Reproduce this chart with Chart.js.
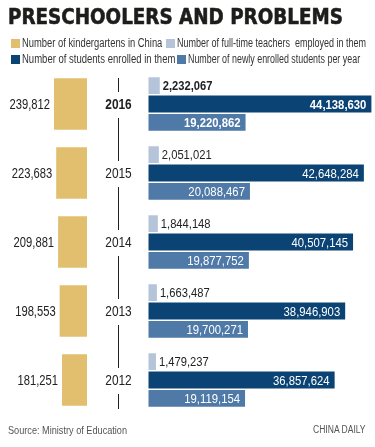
<!DOCTYPE html>
<html>
<head>
<meta charset="utf-8">
<script src="https://cdn.jsdelivr.net/npm/chart.js@4.4.1/dist/chart.umd.min.js"></script>
<style>
    body { margin: 0; background: #fff; }
    #wrap { position: relative; width: 375px; height: 447px; overflow: hidden; font-family: "Liberation Sans", Arial, sans-serif; }
    #chart { position: absolute; left: 0; top: 0; }
    #title {
        position: absolute; left: 8px; top: 5px;
        font-family: "DejaVu Sans", sans-serif; font-weight: bold; font-size: 21px;
        color: #1d1d1b; -webkit-text-stroke: 0.6px #1d1d1b;
        white-space: nowrap; transform-origin: left top;
    }
    .lg { position: absolute; font-size: 12px; color: #333; white-space: nowrap; line-height: 12px; }
    .lg i { display: inline-block; width: 9px; height: 9px; margin-right: 2px; vertical-align: -1px; }
    .fit { display: inline-block; transform-origin: left center; }
    .foot { position: absolute; font-size: 11px; color: #555; white-space: nowrap; }
</style>
</head>
<body>
<div id="wrap">
    <canvas id="chart" width="375" height="447"></canvas>
    <div id="title">PRESCHOOLERS AND PROBLEMS</div>
    <div class="lg" style="left:11px; top:37px"><i style="background:#e2bf6e"></i><span class="fit" data-w="140">Number of kindergartens in China</span></div>
    <div class="lg" style="left:166px; top:37px"><i style="background:#b6c4da"></i><span class="fit" data-w="189">Number of full-time teachers&nbsp; employed in them</span></div>
    <div class="lg" style="left:11px; top:53px"><i style="background:#0b4474"></i><span class="fit" data-w="153">Number of students enrolled in them</span></div>
    <div class="lg" style="left:177px; top:53px"><i style="background:#4f79a7"></i><span class="fit" data-w="172">Number of newly enrolled students per year</span></div>
    <div class="foot" style="left:8px; top:424px"><span class="fit" data-w="119">Source: Ministry of Education</span></div>
    <div class="foot" style="left:313px; top:424px; font-size:10px"><span class="fit" data-w="53">CHINA DAILY</span></div>
</div>
<script>
const years = ["2016", "2015", "2014", "2013", "2012"];
const kindergartens = [239812, 223683, 209881, 198553, 181251];
const teachers = [2232067, 2051021, 1844148, 1663487, 1479237];
const students = [44138630, 42648284, 40507145, 38946903, 36857624];
const newStudents = [19220862, 20088467, 19877752, 19700271, 19119154];

const FONT = '"Liberation Sans", Arial, sans-serif';
const fmt = v => v.toLocaleString("en-US");

// squeeze texts to the reference widths (no narrow font installed)
const title = document.getElementById("title");
title.style.transform = "scaleX(" + (335 / title.offsetWidth) + ")";
document.querySelectorAll(".fit").forEach(el => {
    el.style.transform = "scaleX(" + (el.dataset.w / el.offsetWidth) + ")";
});

// condensed text on the canvas
function squeezeText(ctx, text, x, y, align, sx) {
    ctx.save();
    ctx.translate(x, y);
    ctx.scale(sx, 1);
    ctx.textAlign = align;
    ctx.fillText(text, 0, 0);
    ctx.restore();
}

// value labels, year column and the divider line
const labelPlugin = {
    id: "labels",
    afterDatasetsDraw(chart) {
        const ctx = chart.ctx;
        ctx.save();
        ctx.textBaseline = "middle";

        chart.data.datasets.forEach((ds, di) => {
            chart.getDatasetMeta(di).data.forEach((bar, i) => {
                const { x, y } = bar.getProps(["x", "y"], true);
                const bold = i === 0 ? "bold " : "";
                const text = fmt(ds.data[i]);

                if (di === 0) {
                    ctx.font = "14px " + FONT;
                    ctx.fillStyle = "#222";
                    squeezeText(ctx, text, x - 4, y + 1, "right", 0.8);
                } else if (di === 1) {
                    ctx.font = bold + "13px " + FONT;
                    ctx.fillStyle = "#222";
                    squeezeText(ctx, text, x + 3, y + 1, "left", 0.86);
                } else {
                    ctx.font = bold + "13px " + FONT;
                    ctx.fillStyle = "#fff";
                    squeezeText(ctx, text, x - 5, y + 1, "right", 0.87);
                }
            });
        });

        // years + vertical line
        const yScale = chart.scales.y;
        const lineX = 118.5;
        const top = yScale.getPixelForValue(0) - 26;
        const bottom = yScale.getPixelForValue(years.length - 1) + 29;

        ctx.strokeStyle = "#222";
        ctx.lineWidth = 1;
        let from = top;
        years.forEach((yr, i) => {
            const cy = yScale.getPixelForValue(i);
            ctx.beginPath();
            ctx.moveTo(lineX, from);
            ctx.lineTo(lineX, cy - 12);
            ctx.stroke();
            from = cy + 14;

            ctx.font = (i === 0 ? "bold " : "") + "14px " + FONT;
            ctx.fillStyle = "#222";
            squeezeText(ctx, yr, lineX, cy + 1, "center", 0.85);
        });
        ctx.beginPath();
        ctx.moveTo(lineX, from);
        ctx.lineTo(lineX, bottom);
        ctx.stroke();

        ctx.restore();
    }
};

new Chart(document.getElementById("chart"), {
    type: "bar",
    data: {
        labels: years,
        datasets: [
            {
                label: "Number of kindergartens in China",
                data: kindergartens,
                xAxisID: "xk",
                backgroundColor: "#e2bf6e",
                grouped: false,
                categoryPercentage: 0.8,
                barPercentage: 0.93
            },
            {
                label: "Number of full-time teachers employed in them",
                data: teachers,
                xAxisID: "x",
                backgroundColor: "#b6c4da"
            },
            {
                label: "Number of students enrolled in them",
                data: students,
                xAxisID: "x",
                backgroundColor: "#0b4474"
            },
            {
                label: "Number of newly enrolled students per year",
                data: newStudents,
                xAxisID: "x",
                backgroundColor: "#4f79a7"
            }
        ]
    },
    options: {
        indexAxis: "y",
        responsive: false,
        animation: false,
        devicePixelRatio: 1,
        categoryPercentage: 0.8,
        barPercentage: 0.92,
        layout: { padding: { top: 69.5, bottom: 32.5, left: 0, right: 0 } },
        plugins: {
            legend: { display: false },
            tooltip: { enabled: false }
        },
        scales: {
            y: { display: false },
            // blue bars start at ~148px
            x: { display: false, min: -29405940, max: 44851485 },
            // gold bars grow leftwards from ~87px
            xk: { display: false, reverse: true, min: -2091503, max: 631808 }
        }
    },
    plugins: [labelPlugin]
});
</script>
</body>
</html>
